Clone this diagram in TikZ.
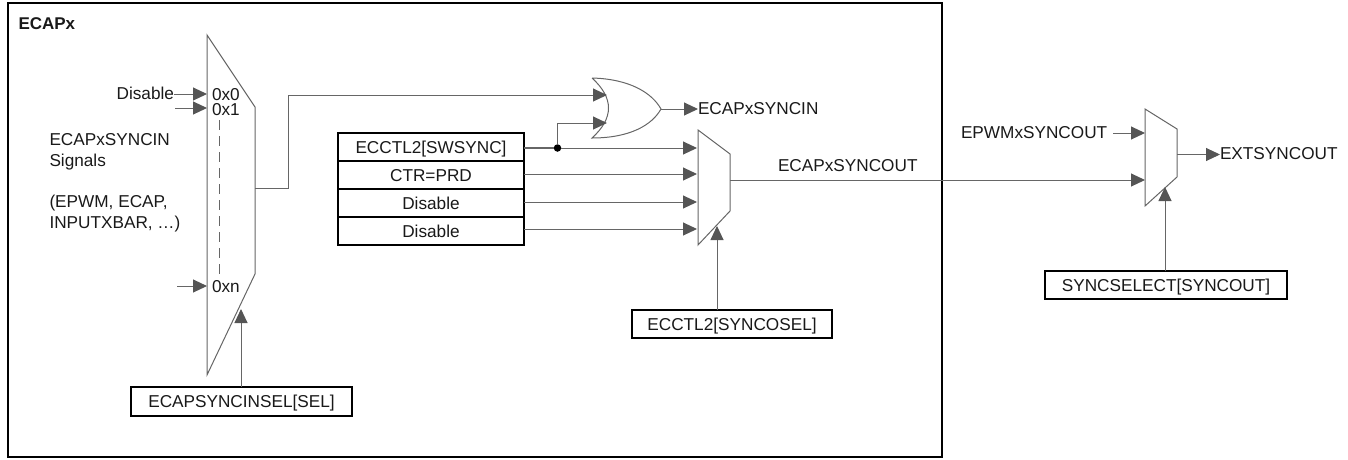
\documentclass[tikz,border=0pt]{standalone}
\usepackage{fontspec}
\setmainfont{Liberation Sans}
\usetikzlibrary{arrows.meta}
\definecolor{wirec}{HTML}{666666}
\definecolor{tipc}{HTML}{555555}
\tikzset{
  wire/.style={draw=wirec,line width=1pt},
  sig/.style={wire,-{Triangle[length=14pt,width=13pt,color=tipc]}},
  muxshape/.style={draw=wirec,line width=1pt,line join=miter},
  lab/.style={inner sep=0pt,outer sep=0pt,font=\fontsize{17.2}{20}\selectfont,text=black!90},
  regbox/.style={draw=black,line width=2pt,fill=white,inner sep=0pt,outer sep=0pt,font=\fontsize{17.2}{20}\selectfont,text=black!90,anchor=north west,text height=13pt,text depth=1pt},
  junction/.style={circle,fill=black,inner sep=0pt,minimum size=7.5pt}
}
\begin{document}
\begin{tikzpicture}[x=1pt,y=-1pt]
\useasboundingbox (0,0) rectangle (1348,459);
% frame
\draw[black,line width=2pt] (8,3) rectangle (942,457);
\node[lab,anchor=base west,font=\fontsize{17}{20}\selectfont\bfseries] (title) at (18.5,29.5) {ECAPx};

% first mux
\coordinate (m1a) at (207,35);
\coordinate (m1b) at (255,107);
\coordinate (m1c) at (255,274);
\coordinate (m1d) at (207,375);
\draw[muxshape] (m1a) -- (m1b) -- (m1c) -- (m1d) -- cycle;
\coordinate (m1in0) at (207,94);
\coordinate (m1in1) at (207,108);
\coordinate (m1inn) at (207,286);
\coordinate (m1out) at (255,188);
\coordinate (m1sel) at (241,309);
\coordinate (free1) at (175,108);
\coordinate (freen) at (177,286);
\node[lab,anchor=base east] (dis) at (174,99) {Disable};
\node[lab,anchor=base west] (p0) at (212,100) {0x0};
\node[lab,anchor=base west] (p1) at (212,115) {0x1};
\node[lab,anchor=base west] (pn) at (212,292) {0xn};
\coordinate (dashtop) at (219,120);
\coordinate (dashbot) at (219,276);
\draw[wire,dash pattern=on 10pt off 6pt] (dashtop) -- (dashbot);
\draw[sig] (dis.east |- m1in0) -- (m1in0);
\draw[sig] (free1) -- (m1in1);
\draw[sig] (freen) -- (m1inn);
\node[lab,anchor=base west] (s1) at (49.5,145) {ECAPxSYNCIN};
\node[lab,anchor=base west] (s2) at (49.5,166) {Signals};
\node[lab,anchor=base west] (s3) at (49.5,207) {(EPWM, ECAP,};
\node[lab,anchor=base west] (s4) at (49.5,228) {INPUTXBAR, …)};
\node[regbox,minimum width=221pt,minimum height=29pt] (insel) at (131,387) {ECAPSYNCINSEL[SEL]};
\draw[sig] (insel.north -| m1sel) -- (m1sel);

% OR gate
\coordinate (ga) at (592,78);
\coordinate (gb) at (592,138);
\coordinate (gt) at (661,109);
\coordinate (gin0) at (607,95);
\coordinate (gin1) at (607,123);
\draw[muxshape] (ga) .. controls (630,79) and (652,93) .. (gt) .. controls (652,125) and (630,138) .. (gb) .. controls (614,118) and (614,98) .. (ga);
\coordinate (m1kn) at (288,188);
\draw[sig] (m1out) -- (m1kn) |- (gin0);
\node[lab,anchor=base west] (syncin) at (698,114.5) {ECAPxSYNCIN};
\draw[sig] (gt) -- (syncin.west |- gt);

% register table
\node[regbox,minimum width=186pt,minimum height=28pt] (r1) at (338,133) {ECCTL2[SWSYNC]};
\node[regbox,minimum width=186pt,minimum height=28pt] (r2) at (338,161) {CTR=PRD};
\node[regbox,minimum width=186pt,minimum height=28pt] (r3) at (338,189) {Disable};
\node[regbox,minimum width=186pt,minimum height=28pt] (r4) at (338,217) {Disable};

% second mux
\coordinate (m2a) at (698,130);
\coordinate (m2b) at (730,154);
\coordinate (m2c) at (730,211);
\coordinate (m2d) at (698,245);
\draw[muxshape] (m2a) -- (m2b) -- (m2c) -- (m2d) -- cycle;
\coordinate (m2in1) at (697,148);
\coordinate (m2in2) at (697,174);
\coordinate (m2in3) at (697,202);
\coordinate (m2in4) at (697,229);
\coordinate (m2out) at (730,180);
\coordinate (m2sel) at (717,226);
\node[junction] (dot) at (557.5,148) {};
\draw[wire,line width=1.4pt] (r1.east |- m2in1) -- (dot);
\draw[sig] (dot) -- (m2in1);
\draw[sig] (dot) |- (gin1);
\draw[sig] (r2.east |- m2in2) -- (m2in2);
\draw[sig] (r3.east |- m2in3) -- (m2in3);
\draw[sig] (r4.east |- m2in4) -- (m2in4);
\node[regbox,minimum width=200pt,minimum height=28pt] (outsel) at (632,310) {ECCTL2[SYNCOSEL]};
\draw[sig] (outsel.north -| m2sel) -- (m2sel);
\node[lab,anchor=base west] (syncout) at (778,171) {ECAPxSYNCOUT};

% third mux
\coordinate (m3a) at (1145,109);
\coordinate (m3b) at (1177,129);
\coordinate (m3c) at (1177,177);
\coordinate (m3d) at (1145,206);
\draw[muxshape] (m3a) -- (m3b) -- (m3c) -- (m3d) -- cycle;
\coordinate (m3in1) at (1145,133);
\coordinate (m3in2) at (1145,180);
\coordinate (m3out) at (1177,154.5);
\coordinate (m3sel) at (1165,187);
\coordinate (free3) at (1113,133);
\draw[sig] (m2out) -- (m3in2);
\draw[sig] (free3) -- (m3in1);
\node[lab,anchor=base west] (epwm) at (961,138.5) {EPWMxSYNCOUT};
\node[lab,anchor=base west] (ext) at (1220,159.5) {EXTSYNCOUT};
\draw[sig] (m3out) -- (ext.west |- m3out);
\node[regbox,minimum width=242pt,minimum height=28pt] (ssel) at (1045,271) {SYNCSELECT[SYNCOUT]};
\draw[sig] (ssel.north -| m3sel) -- (m3sel);
\end{tikzpicture}
\end{document}
